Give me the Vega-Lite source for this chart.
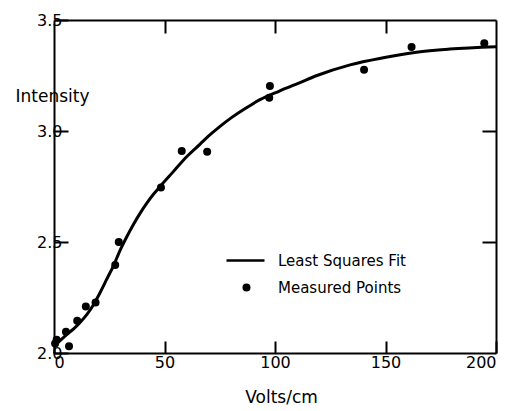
{
  "$schema": "https://vega.github.io/schema/vega-lite/v6.json",
  "autosize": "none",
  "width": 442,
  "height": 333,
  "padding": {"left": 54, "top": 20, "right": 21, "bottom": 58},
  "background": "white",
  "config": {
    "view": {"stroke": null},
    "font": "DejaVu Sans",
    "axis": {
      "grid": false,
      "domainColor": "black",
      "domainWidth": 2,
      "tickColor": "black",
      "tickWidth": 2,
      "labelColor": "black",
      "titleColor": "black",
      "labelFont": "DejaVu Sans",
      "titleFont": "DejaVu Sans",
      "labelFontSize": 16,
      "titleFontSize": 17,
      "titleFontWeight": "normal"
    },
    "legend": {
      "labelFont": "DejaVu Sans",
      "labelFontSize": 15,
      "labelColor": "black"
    }
  },
  "datasets": {
    "fit": [
      {"volts": 0, "intensity": 2.03, "series": "Least Squares Fit"},
      {"volts": 3, "intensity": 2.058, "series": "Least Squares Fit"},
      {"volts": 6, "intensity": 2.085, "series": "Least Squares Fit"},
      {"volts": 9, "intensity": 2.11, "series": "Least Squares Fit"},
      {"volts": 12, "intensity": 2.14, "series": "Least Squares Fit"},
      {"volts": 15, "intensity": 2.175, "series": "Least Squares Fit"},
      {"volts": 18, "intensity": 2.22, "series": "Least Squares Fit"},
      {"volts": 21, "intensity": 2.275, "series": "Least Squares Fit"},
      {"volts": 24, "intensity": 2.335, "series": "Least Squares Fit"},
      {"volts": 27, "intensity": 2.395, "series": "Least Squares Fit"},
      {"volts": 30, "intensity": 2.465, "series": "Least Squares Fit"},
      {"volts": 33, "intensity": 2.525, "series": "Least Squares Fit"},
      {"volts": 36, "intensity": 2.58, "series": "Least Squares Fit"},
      {"volts": 39, "intensity": 2.63, "series": "Least Squares Fit"},
      {"volts": 42, "intensity": 2.675, "series": "Least Squares Fit"},
      {"volts": 45, "intensity": 2.715, "series": "Least Squares Fit"},
      {"volts": 48, "intensity": 2.75, "series": "Least Squares Fit"},
      {"volts": 54, "intensity": 2.817, "series": "Least Squares Fit"},
      {"volts": 60, "intensity": 2.884, "series": "Least Squares Fit"},
      {"volts": 66, "intensity": 2.94, "series": "Least Squares Fit"},
      {"volts": 70, "intensity": 2.978, "series": "Least Squares Fit"},
      {"volts": 75, "intensity": 3.02, "series": "Least Squares Fit"},
      {"volts": 80, "intensity": 3.058, "series": "Least Squares Fit"},
      {"volts": 86, "intensity": 3.098, "series": "Least Squares Fit"},
      {"volts": 93, "intensity": 3.14, "series": "Least Squares Fit"},
      {"volts": 102, "intensity": 3.18, "series": "Least Squares Fit"},
      {"volts": 111, "intensity": 3.217, "series": "Least Squares Fit"},
      {"volts": 119, "intensity": 3.25, "series": "Least Squares Fit"},
      {"volts": 134, "intensity": 3.298, "series": "Least Squares Fit"},
      {"volts": 149, "intensity": 3.33, "series": "Least Squares Fit"},
      {"volts": 164, "intensity": 3.355, "series": "Least Squares Fit"},
      {"volts": 179, "intensity": 3.369, "series": "Least Squares Fit"},
      {"volts": 200, "intensity": 3.38, "series": "Least Squares Fit"}
    ],
    "points": [
      {"volts": 0.5, "intensity": 2.043, "series": "Measured Points"},
      {"volts": 1.2, "intensity": 2.06, "series": "Measured Points"},
      {"volts": 5.4, "intensity": 2.096, "series": "Measured Points"},
      {"volts": 6.8, "intensity": 2.03, "series": "Measured Points"},
      {"volts": 10.5, "intensity": 2.145, "series": "Measured Points"},
      {"volts": 14.4, "intensity": 2.21, "series": "Measured Points"},
      {"volts": 18.8, "intensity": 2.228, "series": "Measured Points"},
      {"volts": 27.7, "intensity": 2.396, "series": "Measured Points"},
      {"volts": 29.3, "intensity": 2.5, "series": "Measured Points"},
      {"volts": 48.4, "intensity": 2.746, "series": "Measured Points"},
      {"volts": 57.8, "intensity": 2.91, "series": "Measured Points"},
      {"volts": 69.3, "intensity": 2.907, "series": "Measured Points"},
      {"volts": 97.7, "intensity": 3.203, "series": "Measured Points"},
      {"volts": 97.4, "intensity": 3.15, "series": "Measured Points"},
      {"volts": 140.3, "intensity": 3.276, "series": "Measured Points"},
      {"volts": 161.8, "intensity": 3.378, "series": "Measured Points"},
      {"volts": 194.7, "intensity": 3.395, "series": "Measured Points"}
    ]
  },
  "layer": [
    {
      "data": {"name": "fit"},
      "mark": {"type": "line", "strokeWidth": 3, "interpolate": "monotone"},
      "encoding": {
        "x": {
          "field": "volts", "type": "quantitative",
          "scale": {"domain": [0, 200], "nice": false},
          "axis": {
            "orient": "bottom", "values": [0, 50, 100, 150, 200], "tickSize": -12,
            "labelPadding": 13, "title": "Volts/cm",
            "titleX": 227, "titleY": 44, "titleBaseline": "middle", "titleAlign": "center"
          }
        },
        "y": {
          "field": "intensity", "type": "quantitative",
          "scale": {"domain": [2.0, 3.5], "nice": false, "zero": false},
          "axis": {
            "orient": "left", "values": [2.0, 2.5, 3.0, 3.5], "format": ".1f", "tickSize": -14,
            "labelPadding": 6, "title": "Intensity", "titleAngle": 0,
            "titleX": -2, "titleY": 76, "titleAlign": "center", "titleBaseline": "middle"
          }
        },
        "color": {
          "field": "series", "type": "nominal",
          "scale": {"domain": ["Least Squares Fit"], "range": ["black"]},
          "legend": {
            "title": null, "orient": "none", "legendX": 171, "legendY": 220,
            "symbolType": "stroke", "symbolSize": 1444, "symbolStrokeWidth": 2.5,
            "symbolStrokeColor": "black", "labelOffset": 12
          }
        }
      }
    },
    {
      "data": {"name": "points"},
      "mark": {"type": "point", "filled": true, "color": "black", "opacity": 1, "size": 64},
      "encoding": {
        "x": {
          "field": "volts", "type": "quantitative",
          "scale": {"domain": [0, 200], "nice": false},
          "axis": {"orient": "top", "values": [50, 100, 150], "tickSize": -13, "labels": false, "title": null}
        },
        "y": {
          "field": "intensity", "type": "quantitative",
          "scale": {"domain": [2.0, 3.5], "nice": false, "zero": false},
          "axis": {"orient": "right", "values": [2.5, 3.0], "tickSize": -14, "labels": false, "title": null}
        },
        "shape": {
          "field": "series", "type": "nominal",
          "scale": {"domain": ["Measured Points"], "range": ["circle"]},
          "legend": {
            "title": null, "orient": "none", "legendX": 185, "legendY": 260,
            "symbolSize": 64, "symbolFillColor": "black", "symbolStrokeColor": "black",
            "labelOffset": 24
          }
        }
      }
    }
  ],
  "resolve": {
    "scale": {"x": "independent", "y": "independent"},
    "axis": {"x": "independent", "y": "independent"}
  }
}
